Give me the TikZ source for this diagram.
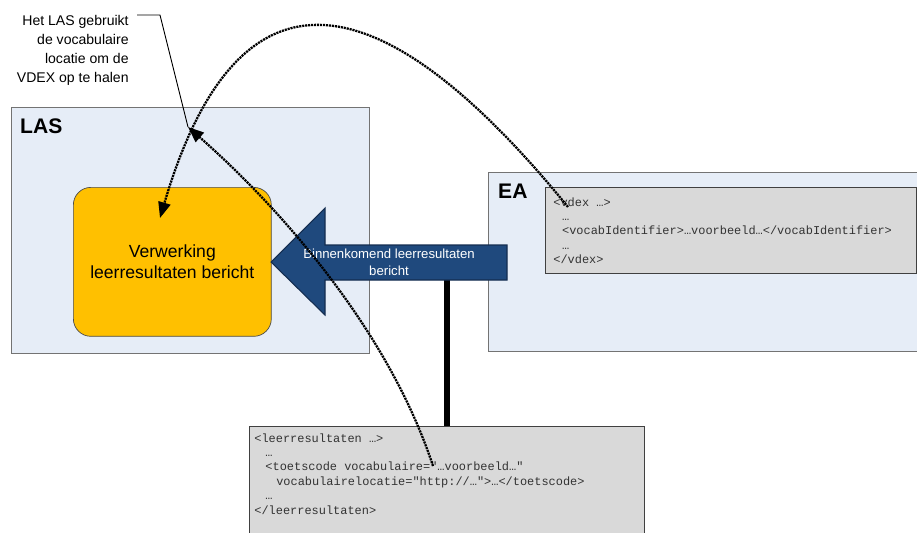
\documentclass[tikz,border=0pt]{standalone}
\usepackage{fontspec}
\setmainfont{Liberation Sans}
\setmonofont{Liberation Mono}
\usepackage{tikz}
\usetikzlibrary{arrows.meta}
\definecolor{lasblue}{RGB}{230,237,247}
\definecolor{boxgray}{RGB}{217,217,217}
\definecolor{procyellow}{RGB}{255,192,0}
\definecolor{msgblue}{RGB}{31,73,125}
\definecolor{msgedge}{RGB}{20,45,80}

\begin{document}
\begin{tikzpicture}[x=0.02cm,y=-0.02cm,
	sysbox/.style={draw=black!55,fill=lasblue,anchor=north west,inner sep=0pt},
	codebox/.style={draw=black!75,fill=boxgray,anchor=north west,inner sep=0pt},
	codetext/.style={anchor=north west,inner sep=0pt,align=left,text=black!80,font=\fontsize{6.8}{8.2}\selectfont\ttfamily},
	lookup/.style={line width=1.3pt,dash pattern=on 1.2pt off 0.5pt,-{Triangle[length=9pt,width=7pt]}}]
	\clip (0,0) rectangle (917,532);
	
	\node[sysbox,minimum width=7.16cm,minimum height=4.92cm] (las) at (11,107) {};
	\node[sysbox,minimum width=8.84cm,minimum height=3.58cm] (ea) at (488,172) {};
	\node[anchor=north west,font=\fontsize{12}{14}\selectfont\bfseries] (laslabel) at (14,113) {LAS};
	\node[anchor=north west,font=\fontsize{12}{14}\selectfont\bfseries] (ealabel) at (492,178) {EA};
	
	\node[draw=black!70,fill=procyellow,rounded corners=10pt,anchor=north west,minimum width=3.96cm,minimum height=2.98cm,align=center,font=\fontsize{10}{11.9}\selectfont] (proc) at (73,187) {Verwerking\\leerresultaten bericht};
	
	\node[codebox,minimum width=7.42cm,minimum height=1.72cm] (vdex) at (545,187) {};
	\node[codetext] (vdextext) at (553,197) {<vdex …>\\\hspace*{5pt}…\\\hspace*{5pt}<vocabIdentifier>…voorbeeld…</vocabIdentifier>\\\hspace*{5pt}…\\</vdex>};
	
	\node[codebox,minimum width=7.9cm,minimum height=2.4cm] (lr) at (249,426) {};
	\node[codetext] (lrtext) at (254,433) {<leerresultaten …>\\\hspace*{6.3pt}…\\\hspace*{6.3pt}<toetscode vocabulaire="…voorbeeld…"\\\hspace*{12.5pt}vocabulairelocatie="http://…">…</toetscode>\\\hspace*{6.3pt}…\\</leerresultaten>};
	
	\coordinate (shafttop) at (507,245);
	\coordinate (shaftbottom) at (507,280);
	\draw[line width=3.4pt] (lr.north) -- (lr.north |- shaftbottom);
	\filldraw[fill=msgblue,draw=msgedge,line width=0.6pt] (271,262) -- (325,208) -- (325,245) -- (shafttop) -- (shaftbottom) -- (325,280) -- (325,315) -- cycle;
	\node[align=center,text=white,font=\fontsize{7.5}{9.6}\selectfont] (msg) at (389,262) {Binnenkomend leerresultaten\\bericht};
	
	\node[anchor=north east,align=right,inner sep=0pt,font=\fontsize{8}{10.9}\selectfont] (note) at (129,15) {Het LAS gebruikt\\de vocabulaire\\locatie om de\\VDEX op te halen};
	\coordinate (notetip) at (137,15);
	\coordinate (notebend) at (160,15);
	\coordinate (callout) at (188,127);
	\draw[line width=0.5pt] (notetip) -- (notebend) -- (callout);
	
	\coordinate (vdexref) at (568,207);
	\coordinate (procin) at (160,218);
	\coordinate (lrref) at (433,466);
	\draw[lookup] (vdexref) .. controls (392,-9) and (242,-60) .. (procin);
	\draw[lookup] (lrref) .. controls (388,329) and (278,206) .. (callout);
\end{tikzpicture}
\end{document}
